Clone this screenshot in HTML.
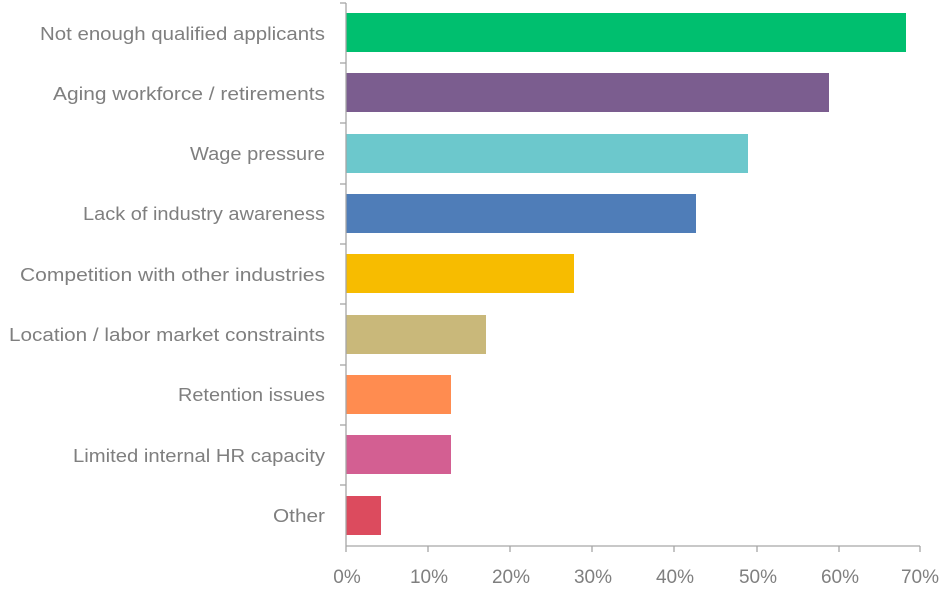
<!DOCTYPE html>
<html><head><meta charset="utf-8"><style>
html,body{margin:0;padding:0;background:#fff}
svg text{font-family:"Liberation Sans",sans-serif;fill:#7f7f7f;font-size:18px}
svg text.t{font-size:19px}
</style></head><body>
<svg width="945" height="589" viewBox="0 0 945 589" xmlns="http://www.w3.org/2000/svg">
<g>
<rect x="346" y="13" width="560" height="39" fill="#00bf6f"/>
<rect x="346" y="73" width="483" height="39" fill="#7b5d8f"/>
<rect x="346" y="134" width="402" height="39" fill="#6cc8cc"/>
<rect x="346" y="194" width="350" height="39" fill="#4f7db8"/>
<rect x="346" y="254" width="228" height="39" fill="#f7bc00"/>
<rect x="346" y="315" width="140" height="39" fill="#c9b87a"/>
<rect x="346" y="375" width="105" height="39" fill="#ff8c50"/>
<rect x="346" y="435" width="105" height="39" fill="#d35f92"/>
<rect x="346" y="496" width="35" height="39" fill="#dc4b5e"/>
</g>
<g stroke="#a6a6a6" stroke-width="1.3" fill="none">
<line x1="346" y1="3" x2="346" y2="546"/>
<line x1="346" y1="546" x2="920" y2="546"/>
<line x1="340" y1="3" x2="346" y2="3"/>
<line x1="340" y1="63" x2="346" y2="63"/>
<line x1="340" y1="123" x2="346" y2="123"/>
<line x1="340" y1="184" x2="346" y2="184"/>
<line x1="340" y1="244" x2="346" y2="244"/>
<line x1="340" y1="304" x2="346" y2="304"/>
<line x1="340" y1="365" x2="346" y2="365"/>
<line x1="340" y1="425" x2="346" y2="425"/>
<line x1="340" y1="485" x2="346" y2="485"/>
<line x1="346" y1="546" x2="346" y2="552"/>
<line x1="428" y1="546" x2="428" y2="552"/>
<line x1="510" y1="546" x2="510" y2="552"/>
<line x1="592" y1="546" x2="592" y2="552"/>
<line x1="674" y1="546" x2="674" y2="552"/>
<line x1="757" y1="546" x2="757" y2="552"/>
<line x1="839" y1="546" x2="839" y2="552"/>
<line x1="920" y1="546" x2="920" y2="552"/>
</g>
<g text-anchor="end">
<text x="325" y="40" textLength="285" lengthAdjust="spacingAndGlyphs">Not enough qualified applicants</text>
<text x="325" y="100" textLength="272" lengthAdjust="spacingAndGlyphs">Aging workforce / retirements</text>
<text x="325" y="160" textLength="135" lengthAdjust="spacingAndGlyphs">Wage pressure</text>
<text x="325" y="220" textLength="242" lengthAdjust="spacingAndGlyphs">Lack of industry awareness</text>
<text x="325" y="281" textLength="305" lengthAdjust="spacingAndGlyphs">Competition with other industries</text>
<text x="325" y="341" textLength="316" lengthAdjust="spacingAndGlyphs">Location / labor market constraints</text>
<text x="325" y="401" textLength="147" lengthAdjust="spacingAndGlyphs">Retention issues</text>
<text x="325" y="462" textLength="252" lengthAdjust="spacingAndGlyphs">Limited internal HR capacity</text>
<text x="325" y="522" textLength="52" lengthAdjust="spacingAndGlyphs">Other</text>
</g>
<g text-anchor="middle">
<text class="t" x="347" y="583">0%</text>
<text class="t" x="429" y="583">10%</text>
<text class="t" x="511" y="583">20%</text>
<text class="t" x="593" y="583">30%</text>
<text class="t" x="675" y="583">40%</text>
<text class="t" x="758" y="583">50%</text>
<text class="t" x="840" y="583">60%</text>
<text class="t" x="920" y="583">70%</text>
</g>
</svg>
</body></html>
